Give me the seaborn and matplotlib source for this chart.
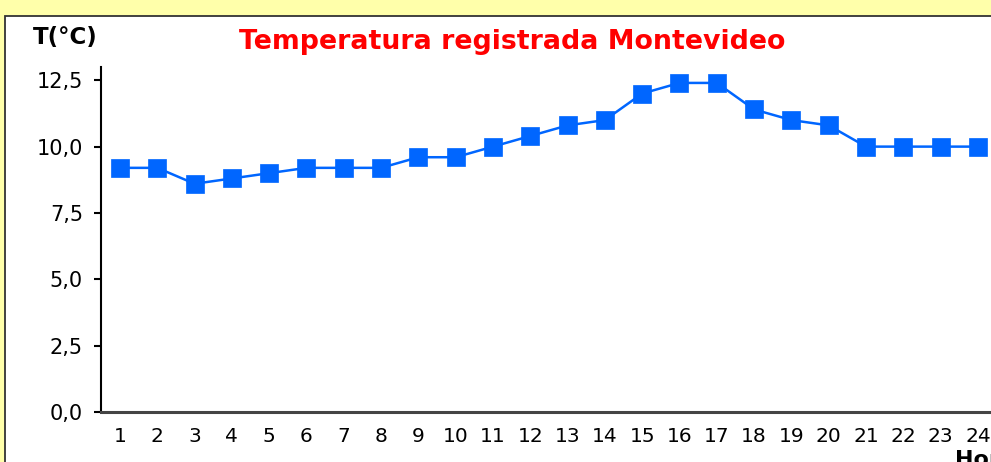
import matplotlib
matplotlib.use("Agg")
import matplotlib.pyplot as plt
import seaborn as sns
import pandas as pd
from matplotlib.patches import Rectangle

hours = list(range(1, 25))
temps = [9.2, 9.2, 8.6, 8.8, 9.0, 9.2, 9.2, 9.2, 9.6, 9.6, 10.0, 10.4,
         10.8, 11.0, 12.0, 12.4, 12.4, 11.4, 11.0, 10.8, 10.0, 10.0, 10.0, 10.0]
y_ticks = [0.0, 2.5, 5.0, 7.5, 10.0, 12.5]
y_tick_labels = ["0,0", "2,5", "5,0", "7,5", "10,0", "12,5"]
title = "Temperatura registrada Montevideo"
y_label = "T(°C)"
x_label = "Hora"

df = pd.DataFrame({"hora": hours, "temp": temps})

sns.set_theme(style="white")
plt.rcParams['font.family'] = ['DejaVu Sans']

W, H = 991, 462
fig = plt.figure(figsize=(W / 100, H / 100), dpi=100)
fig.patch.set_facecolor("#FFFFAA")

panel = Rectangle((5 / W, -0.2), 1.2, (H - 16) / H + 0.2, transform=fig.transFigure,
                  facecolor="white", edgecolor="#333333", linewidth=1.3, zorder=-5)
fig.patches.append(panel)

left = 101 / W
bottom = (H - 412) / H
top = (H - 67) / H
right_px = 1010
ax = fig.add_axes([left, bottom, (right_px - 101) / W, top - bottom])
ax.set_zorder(2)
ax.set_facecolor("none")

sns.lineplot(data=df, x="hora", y="temp", ax=ax, color="#0066FF", linewidth=1.8,
             marker="s", markersize=13, markeredgecolor="#0066FF", markeredgewidth=0.5)

x0 = 1 - 19 / 37.3
ax.set_xlim(x0, x0 + (right_px - 101) / 37.3)
ax.set_ylim(0, 13)
ax.set_xticks(hours)
ax.set_xticklabels([str(h) for h in hours])
ax.set_yticks(y_ticks)
ax.set_yticklabels(y_tick_labels)
ax.set_xlabel("")
ax.set_ylabel("")

for s in ["top", "right"]:
    ax.spines[s].set_visible(False)
ax.spines["left"].set_color("black")
ax.spines["left"].set_linewidth(1.5)
ax.spines["bottom"].set_color("#444444")
ax.spines["bottom"].set_linewidth(2.2)

ax.tick_params(axis="y", which="major", left=True, length=5, width=1.5, color="black",
               direction="out", pad=8, labelsize=15, labelcolor="black")
ax.tick_params(axis="x", which="major", bottom=False, length=0, pad=11,
               labelsize=14.5, labelcolor="black")

fig.text(512 / W, (H - 49) / H, title, color="red", fontsize=19.3, fontweight="bold",
         ha="center", va="baseline", zorder=3)
fig.text(33 / W, (H - 44) / H, y_label, color="black", fontsize=16.5, fontweight="bold",
         ha="left", va="baseline", zorder=3)
fig.text(955 / W, (H - 466) / H, x_label, color="black", fontsize=16, fontweight="bold",
         ha="left", va="baseline", zorder=3)

fig.savefig("out.png", dpi=100)
